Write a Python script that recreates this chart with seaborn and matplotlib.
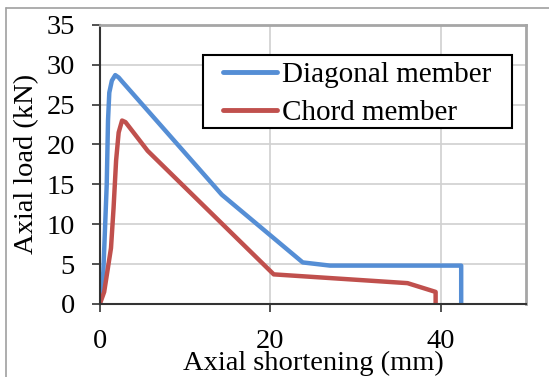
import matplotlib
matplotlib.use("Agg")
import matplotlib.pyplot as plt
import seaborn as sns
import pandas as pd
from matplotlib.lines import Line2D
from matplotlib.patches import Rectangle

# Data
diag_x = [0, 0.4, 0.8, 0.95, 1.1, 1.4, 1.8, 2.2, 2.6, 14.3, 23.8, 27.0, 42.4, 42.4]
diag_y = [0, 4, 15, 23, 26.5, 28.0, 28.7, 28.4, 27.9, 13.7, 5.2, 4.8, 4.8, 0]
chord_x = [0, 0.5, 1.3, 1.6, 1.9, 2.2, 2.6, 3.0, 5.6, 20.4, 36.1, 39.4, 39.4]
chord_y = [0, 1.5, 7, 12, 18, 21.5, 23.0, 22.8, 19.2, 3.7, 2.6, 1.5, 0]
series_names = ["Diagonal member", "Chord member"]
x_ticks = [0, 20, 40]
y_ticks = [0, 5, 10, 15, 20, 25, 30, 35]

df = pd.concat([
    pd.DataFrame({"x": diag_x, "y": diag_y, "series": series_names[0], "order": range(len(diag_x))}),
    pd.DataFrame({"x": chord_x, "y": chord_y, "series": series_names[1], "order": range(len(chord_x))}),
])

sns.set_theme(style="white")
plt.rcParams["font.family"] = ["Liberation Serif", "DejaVu Serif"]

fig = plt.figure(figsize=(5.49, 3.77), dpi=100)
ax = fig.add_axes([0.182, 0.194, 0.776, 0.740])

palette = {series_names[0]: "#558ED5", series_names[1]: "#C0504D"}
sns.lineplot(data=df, x="x", y="y", hue="series", units="series", estimator=None,
             sort=False, palette=palette, linewidth=3.2, ax=ax, legend=False)

ax.set_xlim(0, 50)
ax.set_ylim(0, 35)
ax.set_xticks(x_ticks)
ax.set_yticks(y_ticks)
ax.yaxis.grid(True, color="#d0d0d0", linewidth=1.2)
ax.xaxis.grid(True, color="#d0d0d0", linewidth=1.2)
ax.set_axisbelow(True)

for side in ["top", "right"]:
    ax.spines[side].set_color("#a6a6a6")
    ax.spines[side].set_linewidth(2.0)
for side in ["left", "bottom"]:
    ax.spines[side].set_color("#333333")
    ax.spines[side].set_linewidth(1.5)

ax.tick_params(axis="both", which="major", direction="out", length=6, width=1.2,
               color="#333333", labelsize=20.5, labelcolor="black", left=True, bottom=True)
ax.tick_params(axis="y", pad=12)
ax.tick_params(axis="x", pad=12)

ax.set_xlabel("Axial shortening (mm)", fontsize=20.5, labelpad=-2, color="black")
ax.set_ylabel("Axial load (kN)", fontsize=20.5, labelpad=5, color="black")

# legend: box drawn separately to match the reference padding
ax.add_patch(Rectangle((0.2418, 0.631), 0.7254, 0.2615, transform=ax.transAxes,
                       facecolor="white", edgecolor="black", linewidth=1.5, zorder=4))
handles = [Line2D([0], [0], color=palette[n], linewidth=3.5, solid_capstyle="round") for n in series_names]
leg = ax.legend(handles, series_names, loc="upper left", bbox_to_anchor=(0.2887, 0.868),
                fontsize=21, frameon=False, handlelength=1.85,
                handletextpad=0.18, borderpad=0, labelspacing=0.4, borderaxespad=0)
leg.set_zorder(5)
for t in leg.get_texts():
    t.set_color("black")

# partial figure border (top and left) as in the reference
fig.add_artist(Line2D([6/549, 1.0], [1 - 8/377, 1 - 8/377], transform=fig.transFigure,
                      color="#a0a0a0", linewidth=1.2))
fig.add_artist(Line2D([6/549, 6/549], [0, 1 - 8/377], transform=fig.transFigure,
                      color="#a0a0a0", linewidth=1.2))

fig.savefig("out.png", dpi=100)
